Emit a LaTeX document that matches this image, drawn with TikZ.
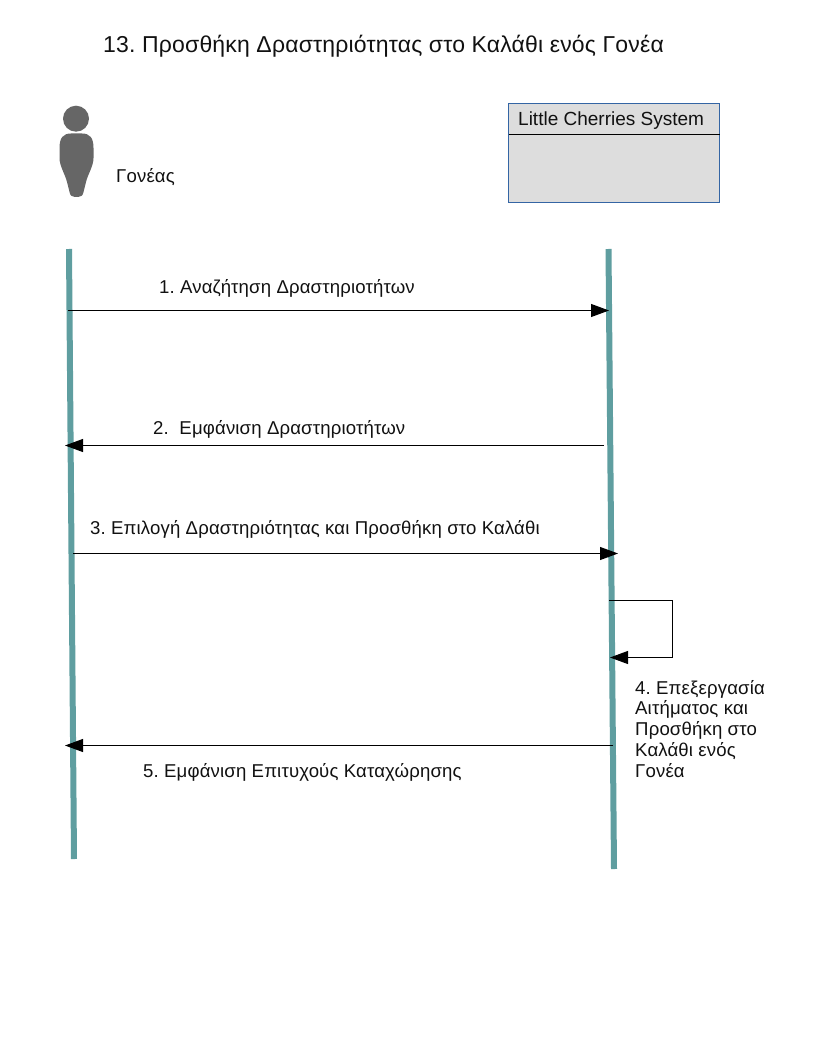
\documentclass[tikz,border=0pt]{standalone}
\usepackage{fontspec}
\setmainfont{Liberation Sans}
\newfontfamily\spacedfont[LetterSpace=0.8]{Liberation Sans}
\usetikzlibrary{arrows.meta}
\tikzset{
	lifeline/.style={draw=lifecol, line width=6pt},
	message/.style={draw=black, line width=1pt, -{Triangle[length=18pt,width=13pt]}},
	label/.style={anchor=base west, inner sep=0pt, font=\spacedfont\fontsize{18.6}{20.7}\selectfont, text=textcol},
	titlelabel/.style={anchor=base west, inner sep=0pt, font=\spacedfont\fontsize{23}{26}\selectfont, text=textcol},
	sysbox/.style={draw=boxcol, fill=boxfill, line width=1pt, minimum width=211pt, minimum height=99pt, inner sep=0pt}
}
\definecolor{lifecol}{HTML}{5F9EA0}
\definecolor{boxcol}{HTML}{3465A4}
\definecolor{boxfill}{HTML}{DDDDDD}
\definecolor{personcol}{HTML}{666666}
\definecolor{textcol}{HTML}{111111}

\begin{document}
\frenchspacing
\begin{tikzpicture}[x=1pt,y=-1pt]
	\useasboundingbox (0,0) rectangle (816,1056);

	\node[titlelabel] (title) at (103,53) {13. Προσθήκη Δραστηριότητας στο Καλάθι ενός Γονέα};

	% parent figure
	\fill[personcol] (76,118.7) circle (13);
	\fill[personcol] (59.5,148) .. controls (59.5,138) and (63,133.5) .. (71,133.5) -- (82,133.5)
		.. controls (90,133.5) and (93.5,138) .. (93.5,148) -- (93.5,158) .. controls (93.5,166) and (88,174) .. (86,182)
		-- (83.5,192) .. controls (83,195.5) and (81,197) .. (78,197) -- (75,197) .. controls (72,197) and (70,195.5) .. (69.5,192)
		-- (67,182) .. controls (65,174) and (59.5,166) .. (59.5,158) -- cycle;
	\node[label] (parent) at (116,183) {Γονέας};

	% system box
	\node[sysbox] (system) at (614,153) {};
	\coordinate (sepleft) at (508.5,134.5);
	\coordinate (sepright) at (719.5,134.5);
	\draw[line width=1pt] (sepleft) -- (sepright);
	\node[label, font=\fontsize{19}{24}\selectfont] (systemname) at (518,126) {Little Cherries System};

	% lifelines
	\coordinate (ltop) at (69,249);
	\coordinate (lbot) at (74,859);
	\coordinate (rtop) at (608.5,249);
	\coordinate (rbot) at (614,869);
	\draw[lifeline] (ltop) -- (lbot);
	\draw[lifeline] (rtop) -- (rbot);

	% messages
	\coordinate (m1a) at (68,310.5);
	\coordinate (m1b) at (609,310.5);
	\coordinate (m2a) at (604,445.5);
	\coordinate (m2b) at (65,445.5);
	\coordinate (m3a) at (73,553.5);
	\coordinate (m3b) at (618,553.5);
	\coordinate (m4a) at (609,600.5);
	\coordinate (m4c) at (672.5,600.5);
	\coordinate (m4d) at (672.5,657.5);
	\coordinate (m4b) at (610,657.5);
	\coordinate (m5a) at (613,745.5);
	\coordinate (m5b) at (65,745.5);
	\draw[message] (m1a) -- (m1b);
	\draw[message] (m2a) -- (m2b);
	\draw[message] (m3a) -- (m3b);
	\draw[message] (m4a) -- (m4c) -- (m4d) -- (m4b);
	\draw[message] (m5a) -- (m5b);

	\node[label] (msg1) at (159,294) {1. Αναζήτηση Δραστηριοτήτων};
	\node[label] (msg2) at (153,434) {2.\ \ Εμφάνιση Δραστηριοτήτων};
	\node[label] (msg3) at (90,534) {3. Επιλογή Δραστηριότητας και Προσθήκη στο Καλάθι};
	\node[label, align=left, anchor=north west] (msg4) at (635,680) {4. Επεξεργασία\\Αιτήματος και\\Προσθήκη στο\\Καλάθι ενός\\Γονέα};
	\node[label] (msg5) at (143,777) {5. Εμφάνιση Επιτυχούς Καταχώρησης};
\end{tikzpicture}
\end{document}
